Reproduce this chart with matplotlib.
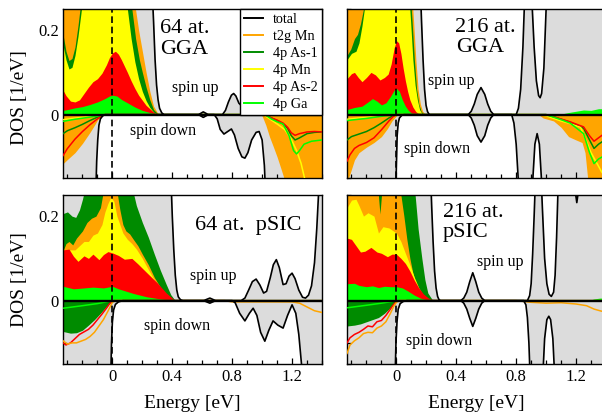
import numpy as np
import matplotlib
matplotlib.use('Agg')
import matplotlib.pyplot as plt
from matplotlib.lines import Line2D
from matplotlib.ticker import FixedLocator, MultipleLocator, FuncFormatter

plt.rcParams['font.family'] = ['Liberation Serif', 'DejaVu Serif']

# ---------------- data: (energy [eV], DOS [1/eV]) ----------------
# ---- 64 at. GGA ----
TL_TOTAL_UP = [(-0.33,0.45),(0.25,0.45),(0.265,0.3),(0.275,0.22),(0.285,0.13),(0.295,0.07),(0.305,0.035),
               (0.315,0.015),(0.33,0.004),(0.345,0.0),(0.575,0.0),(0.59,0.003),(0.607,0.0065),(0.625,0.003),
               (0.64,0.0),(0.735,0.0),(0.755,0.01),(0.775,0.03),(0.795,0.046),(0.81,0.05),(0.825,0.044),
               (0.845,0.027),(0.865,0.02),(0.885,0.05),(0.91,0.2),(0.94,0.45),(1.40,0.45)]
TL_TOTAL_DN = [(-0.33,-0.45),(-0.125,-0.45),(-0.112,-0.2),(-0.105,-0.11),(-0.098,-0.06),(-0.09,-0.025),
               (-0.08,-0.01),(-0.065,-0.003),(-0.05,0.0),(0.575,0.0),(0.59,-0.003),(0.607,-0.0065),
               (0.625,-0.003),(0.64,0.0),(0.68,0.0),(0.7,-0.01),(0.72,-0.035),(0.745,-0.046),(0.77,-0.04),
               (0.795,-0.034),(0.815,-0.048),(0.84,-0.08),(0.865,-0.1),(0.885,-0.103),(0.905,-0.09),
               (0.93,-0.06),(0.96,-0.042),(0.98,-0.04),(1.0,-0.06),(1.015,-0.12),(1.025,-0.2),
               (1.04,-0.45),(1.40,-0.45)]
TL_T2G_UP = [(-0.33,0.45),(0.1,0.45),(0.13,0.32),(0.15,0.26),(0.175,0.2),(0.2,0.15),(0.225,0.1),
             (0.25,0.055),(0.275,0.02),(0.3,0.005),(0.32,0.0),(1.4,0.0)]
TL_AS1_UP = [(-0.33,0.19),(-0.31,0.15),(-0.29,0.128),(-0.27,0.133),(-0.25,0.16),(-0.23,0.21),(-0.21,0.27),
             (-0.19,0.33),(-0.15,0.45),(0.08,0.45),(0.11,0.3),(0.13,0.25),(0.155,0.18),(0.18,0.13),
             (0.2,0.1),(0.225,0.065),(0.25,0.035),(0.275,0.012),(0.3,0.003),(0.32,0.0),(1.4,0.0)]
TL_MN_UP = [(-0.33,0.165),(-0.31,0.13),(-0.29,0.108),(-0.27,0.112),(-0.25,0.14),(-0.23,0.185),(-0.21,0.24),
            (-0.19,0.3),(-0.15,0.45),(0.05,0.45),(0.08,0.3),(0.1,0.25),(0.125,0.18),(0.15,0.125),
            (0.175,0.085),(0.2,0.055),(0.225,0.033),(0.25,0.017),(0.275,0.006),(0.3,0.0),(1.4,0.0)]
TL_AS2_UP = [(-0.33,0.058),(-0.31,0.045),(-0.28,0.032),(-0.25,0.03),(-0.22,0.035),(-0.19,0.05),(-0.16,0.065),
             (-0.13,0.078),(-0.1,0.085),(-0.07,0.098),(-0.04,0.118),(-0.02,0.135),(0.0,0.146),(0.02,0.15),
             (0.04,0.143),(0.06,0.13),(0.08,0.115),(0.1,0.1),(0.125,0.08),(0.15,0.062),(0.175,0.046),
             (0.2,0.034),(0.225,0.022),(0.25,0.014),(0.275,0.006),(0.3,0.001),(0.32,0.0),(1.4,0.0)]
TL_GA_UP = [(-0.33,0.01),(-0.3,0.012),(-0.25,0.016),(-0.2,0.019),(-0.15,0.024),(-0.1,0.03),(-0.05,0.038),
            (-0.02,0.044),(0.0,0.046),(0.03,0.044),(0.06,0.036),(0.1,0.028),(0.15,0.018),(0.2,0.01),
            (0.25,0.005),(0.3,0.0),(1.4,0.0)]
TL_T2G_DN = [(-0.33,-0.116),(-0.3,-0.106),(-0.25,-0.09),(-0.2,-0.068),(-0.15,-0.042),(-0.12,-0.025),
             (-0.1,-0.013),(-0.08,-0.005),(-0.06,-0.001),(-0.04,0.0),(0.99,0.0),(1.0,-0.003),(1.025,-0.025),
             (1.05,-0.053),(1.075,-0.076),(1.1,-0.1),(1.125,-0.127),(1.15,-0.155),(1.18,-0.3),(1.4,-0.3)]
TL_AS1_DN = [(-0.33,-0.045),(-0.3,-0.038),(-0.25,-0.031),(-0.2,-0.023),(-0.15,-0.014),(-0.1,-0.006),
             (-0.07,-0.002),(-0.05,0.0),(1.02,0.0),(1.05,-0.006),(1.1,-0.014),(1.14,-0.022),(1.17,-0.032),
             (1.195,-0.05),(1.22,-0.06),(1.25,-0.055),(1.3,-0.045),(1.35,-0.042),(1.4,-0.041)]
TL_AS2_DN = [(-0.33,-0.097),(-0.3,-0.08),(-0.25,-0.058),(-0.2,-0.04),(-0.15,-0.024),(-0.1,-0.01),
             (-0.07,-0.003),(-0.05,0.0),(1.02,0.0),(1.05,-0.006),(1.1,-0.013),(1.14,-0.02),(1.17,-0.03),
             (1.195,-0.043),(1.22,-0.049),(1.25,-0.045),(1.3,-0.041),(1.35,-0.04),(1.4,-0.041)]
TL_MN_DN = [(-0.33,-0.012),(-0.2,-0.006),(-0.1,-0.002),(-0.05,0.0),(1.01,0.0),(1.05,-0.01),(1.1,-0.022),
            (1.15,-0.035),(1.19,-0.055),(1.23,-0.085),(1.26,-0.115),(1.29,-0.16),(1.32,-0.3),(1.4,-0.3)]
TL_GA_DN = [(-0.33,-0.016),(-0.25,-0.011),(-0.15,-0.006),(-0.08,-0.002),(-0.05,0.0),(1.02,0.0),(1.06,-0.01),
            (1.1,-0.017),(1.14,-0.022),(1.18,-0.05),(1.21,-0.085),(1.23,-0.093),(1.25,-0.085),
            (1.28,-0.07),(1.33,-0.063),(1.4,-0.06)]

# ---- 216 at. GGA ----
TR_TOTAL_UP = [(-0.33,0.45),(0.15,0.45),(0.16,0.3),(0.168,0.22),(0.178,0.13),(0.188,0.06),(0.198,0.022),
               (0.208,0.007),(0.22,0.0),(0.48,0.0),(0.5,0.008),(0.52,0.025),(0.54,0.048),(0.565,0.064),
               (0.59,0.048),(0.61,0.025),(0.63,0.008),(0.65,0.0),(0.8,0.0),(0.815,0.015),(0.83,0.06),
               (0.845,0.16),(0.855,0.26),(0.87,0.38),(0.89,0.38),(0.905,0.27),(0.92,0.16),(0.935,0.08),
               (0.95,0.045),(0.96,0.04),(0.97,0.05),(0.985,0.11),(1.0,0.25),(1.02,0.45),(1.4,0.45)]
TR_TOTAL_DN = [(-0.33,-0.45),(-0.015,-0.45),(-0.005,-0.2),(0.0,-0.12),(0.005,-0.05),(0.012,-0.02),
               (0.02,-0.008),(0.035,-0.002),(0.05,0.0),(0.48,0.0),(0.5,-0.008),(0.52,-0.025),(0.54,-0.05),
               (0.565,-0.065),(0.59,-0.05),(0.61,-0.025),(0.63,-0.008),(0.65,0.0),(0.77,0.0),
               (0.785,-0.02),(0.8,-0.07),(0.815,-0.16),(0.83,-0.45),(0.89,-0.45),(0.91,-0.16),
               (0.925,-0.07),(0.94,-0.045),(0.955,-0.07),(0.97,-0.16),(0.99,-0.45),(1.4,-0.45)]
TR_T2G_UP = [(-0.33,0.45),(0.08,0.45),(0.1,0.3),(0.115,0.22),(0.13,0.13),(0.145,0.06),(0.16,0.025),
             (0.175,0.008),(0.19,0.002),(0.2,0.0),(1.4,0.0)]
TR_AS1_UP = [(-0.33,0.14),(-0.305,0.155),(-0.28,0.18),(-0.26,0.19),(-0.24,0.215),(-0.22,0.25),(-0.2,0.3),
             (-0.17,0.45),(0.07,0.45),(0.09,0.3),(0.105,0.22),(0.12,0.13),(0.135,0.06),(0.15,0.025),
             (0.165,0.008),(0.18,0.002),(0.19,0.0),(1.4,0.0)]
TR_MN_UP = [(-0.33,0.13),(-0.3,0.145),(-0.27,0.15),(-0.25,0.17),(-0.23,0.21),(-0.21,0.26),(-0.19,0.32),
            (-0.16,0.45),(0.06,0.45),(0.08,0.3),(0.095,0.22),(0.11,0.13),(0.125,0.07),(0.14,0.035),
            (0.155,0.012),(0.17,0.003),(0.18,0.0),(1.4,0.0)]
TR_AS2_UP = [(-0.33,0.085),(-0.3,0.097),(-0.28,0.1),(-0.255,0.088),(-0.23,0.078),(-0.2,0.088),(-0.17,0.1),
             (-0.14,0.094),(-0.11,0.082),(-0.08,0.088),(-0.055,0.096),(-0.035,0.12),(-0.015,0.158),
             (0.0,0.175),(0.015,0.17),(0.03,0.145),(0.045,0.11),(0.06,0.08),(0.075,0.055),(0.09,0.035),
             (0.11,0.018),(0.13,0.007),(0.15,0.002),(0.17,0.0),(1.4,0.0)]
TR_GA_UP = [(-0.33,0.012),(-0.28,0.017),(-0.23,0.02),(-0.19,0.03),(-0.16,0.038),(-0.13,0.032),(-0.1,0.023),
            (-0.07,0.028),(-0.04,0.043),(-0.015,0.058),(0.0,0.062),(0.02,0.055),(0.04,0.035),(0.06,0.02),
            (0.08,0.01),(0.1,0.004),(0.12,0.001),(0.14,0.0),(1.08,0.0),(1.15,0.005),(1.2,0.008),
            (1.25,0.011),(1.3,0.01),(1.35,0.014),(1.4,0.014)]
TR_T2G_DN = [(-0.33,-0.16),(-0.31,-0.14),(-0.28,-0.107),(-0.25,-0.09),(-0.2,-0.077),(-0.15,-0.066),
             (-0.1,-0.052),(-0.06,-0.033),(-0.03,-0.015),(0.0,-0.003),(0.02,0.0),(0.95,0.0),(0.98,-0.008),
             (1.05,-0.015),(1.1,-0.03),(1.15,-0.052),(1.2,-0.06),(1.24,-0.066),(1.26,-0.09),(1.28,-0.16),
             (1.3,-0.3),(1.4,-0.3)]
TR_AS1_DN = [(-0.33,-0.06),(-0.3,-0.052),(-0.25,-0.046),(-0.2,-0.04),(-0.15,-0.031),(-0.1,-0.02),
             (-0.05,-0.008),(-0.02,-0.002),(0.0,0.0),(1.0,0.0),(1.05,-0.005),(1.16,-0.018),(1.25,-0.032),
             (1.29,-0.06),(1.32,-0.08),(1.35,-0.07),(1.4,-0.058)]
TR_AS2_DN = [(-0.33,-0.11),(-0.31,-0.095),(-0.28,-0.08),(-0.25,-0.073),(-0.2,-0.066),(-0.15,-0.055),
             (-0.1,-0.036),(-0.05,-0.015),(-0.02,-0.004),(0.0,0.0),(1.0,0.0),(1.05,-0.005),(1.16,-0.017),
             (1.25,-0.029),(1.29,-0.05),(1.32,-0.063),(1.35,-0.055),(1.4,-0.042)]
TR_MN_DN = [(-0.33,-0.011),(-0.2,-0.006),(-0.1,-0.002),(0.0,0.0),(0.95,0.0),(1.0,-0.003),(1.1,-0.015),
            (1.16,-0.021),(1.23,-0.03),(1.26,-0.055),(1.3,-0.09),(1.37,-0.135),(1.4,-0.15)]
TR_GA_DN = [(-0.33,-0.014),(-0.2,-0.009),(-0.1,-0.004),(0.0,0.0),(1.0,0.0),(1.1,-0.012),(1.16,-0.02),
            (1.25,-0.045),(1.29,-0.09),(1.32,-0.116),(1.35,-0.105),(1.4,-0.095)]

# ---- 64 at. pSIC ----
BL_TOTAL_UP = [(-0.33,0.45),(0.38,0.45),(0.39,0.3),(0.4,0.2),(0.41,0.12),(0.42,0.06),(0.43,0.025),
               (0.44,0.009),(0.455,0.002),(0.47,0.0),(0.61,0.0),(0.63,0.003),(0.651,0.006),(0.67,0.003),
               (0.69,0.0),(0.86,0.0),(0.885,0.006),(0.91,0.025),(0.935,0.045),(0.96,0.051),(0.985,0.037),
               (1.01,0.018),(1.03,0.022),(1.055,0.055),(1.075,0.085),(1.095,0.097),(1.115,0.078),
               (1.14,0.038),(1.16,0.04),(1.18,0.058),(1.2,0.065),(1.22,0.052),(1.245,0.025),(1.27,0.008),
               (1.29,0.006),(1.31,0.013),(1.33,0.035),(1.35,0.09),(1.365,0.17),(1.378,0.26),(1.39,0.38),
               (1.4,0.45)]
BL_TOTAL_DN = [(-0.33,-0.45),(-0.02,-0.45),(-0.012,-0.2),(-0.006,-0.1),(0.0,-0.05),(0.008,-0.022),
               (0.02,-0.009),(0.04,-0.003),(0.07,0.0),(0.61,0.0),(0.63,-0.003),(0.651,-0.006),
               (0.67,-0.003),(0.69,0.0),(0.8,0.0),(0.82,-0.005),(0.85,-0.03),(0.885,-0.048),(0.915,-0.03),
               (0.94,-0.018),(0.965,-0.035),(0.99,-0.075),(1.018,-0.096),(1.045,-0.07),(1.073,-0.048),
               (1.105,-0.058),(1.14,-0.065),(1.17,-0.035),(1.2,-0.01),(1.225,-0.03),(1.245,-0.08),
               (1.263,-0.15),(1.28,-0.3),(1.4,-0.45)]
BL_AS1_UP = [(-0.33,0.206),(-0.3,0.21),(-0.27,0.2),(-0.245,0.197),(-0.22,0.215),(-0.2,0.24),(-0.18,0.27),
             (-0.15,0.35),(-0.12,0.45),(0.1,0.45),(0.13,0.27),(0.16,0.225),(0.2,0.185),(0.24,0.15),
             (0.28,0.11),(0.32,0.072),(0.36,0.038),(0.39,0.014),(0.42,0.0),(1.4,0.0)]
BL_T2G_UP = [(-0.33,0.118),(-0.31,0.135),(-0.29,0.14),(-0.265,0.132),(-0.24,0.148),(-0.2,0.165),
             (-0.17,0.185),(-0.14,0.195),(-0.11,0.2),(-0.08,0.22),(-0.06,0.26),(-0.03,0.29),(0.0,0.3),
             (0.025,0.27),(0.05,0.215),(0.07,0.18),(0.09,0.165),(0.115,0.158),(0.14,0.145),(0.17,0.13),
             (0.2,0.11),(0.24,0.085),(0.28,0.055),(0.32,0.032),(0.36,0.014),(0.4,0.002),(0.42,0.0),
             (1.4,0.0)]
BL_MN_UP = [(-0.33,0.118),(-0.28,0.12),(-0.25,0.12),(-0.22,0.13),(-0.19,0.14),(-0.16,0.14),(-0.13,0.155),
            (-0.1,0.16),(-0.07,0.18),(-0.05,0.21),(-0.03,0.23),(-0.01,0.245),(0.01,0.235),(0.03,0.2),
            (0.05,0.18),(0.07,0.16),(0.1,0.145),(0.13,0.135),(0.16,0.122),(0.2,0.1),(0.23,0.08),
            (0.27,0.055),(0.32,0.03),(0.36,0.015),(0.41,0.0),(1.4,0.0)]
BL_AS2_UP = [(-0.33,0.12),(-0.29,0.122),(-0.26,0.105),(-0.23,0.093),(-0.19,0.106),(-0.16,0.1),(-0.13,0.11),
             (-0.09,0.097),(-0.06,0.109),(-0.03,0.116),(0.0,0.113),(0.04,0.107),(0.08,0.098),(0.13,0.1),
             (0.17,0.087),(0.23,0.066),(0.3,0.042),(0.36,0.018),(0.42,0.0),(1.4,0.0)]
BL_GA_UP = [(-0.33,0.034),(-0.26,0.028),(-0.19,0.03),(-0.13,0.032),(-0.06,0.03),(0.0,0.034),(0.04,0.028),
            (0.14,0.017),(0.23,0.009),(0.32,0.004),(0.41,0.0),(1.4,0.0)]
BL_AS1_DN = [(-0.33,-0.073),(-0.28,-0.077),(-0.24,-0.076),(-0.2,-0.07),(-0.16,-0.058),(-0.12,-0.045),
             (-0.08,-0.03),(-0.05,-0.018),(-0.02,-0.006),(0.0,0.0),(1.4,0.0)]
BL_GA_DN = [(-0.33,-0.018),(-0.2,-0.012),(-0.1,-0.007),(-0.03,-0.002),(0.0,0.0),(1.4,0.0)]
BL_AS2_DN = [(-0.33,-0.1),(-0.31,-0.105),(-0.28,-0.1),(-0.25,-0.09),(-0.22,-0.08),(-0.19,-0.074),
             (-0.16,-0.068),(-0.13,-0.058),(-0.1,-0.045),(-0.07,-0.032),(-0.04,-0.018),(-0.02,-0.008),
             (0.0,-0.001),(0.02,0.0),(1.4,0.0)]
BL_T2G_DN = [(-0.33,-0.095),(-0.3,-0.103),(-0.27,-0.1),(-0.24,-0.1),(-0.21,-0.096),(-0.18,-0.092),
             (-0.15,-0.085),(-0.12,-0.075),(-0.09,-0.06),(-0.06,-0.045),(-0.03,-0.025),(0.0,-0.004),
             (0.02,0.0),(0.75,0.0),(0.8,-0.003),(1.2,-0.003),(1.25,-0.006),(1.3,-0.015),(1.35,-0.024),
             (1.4,-0.028)]

# ---- 216 at. pSIC ----
BR_TOTAL_UP = [(-0.33,0.45),(0.22,0.45),(0.228,0.3),(0.236,0.22),(0.245,0.14),(0.255,0.07),(0.265,0.03),
               (0.275,0.01),(0.285,0.002),(0.295,0.0),(0.43,0.0),(0.45,0.006),(0.47,0.02),(0.49,0.045),
               (0.51,0.066),(0.53,0.045),(0.55,0.02),(0.57,0.006),(0.59,0.0),(0.875,0.0),(0.89,0.012),
               (0.9,0.04),(0.91,0.11),(0.92,0.2),(0.93,0.3),(0.945,0.45),(0.96,0.35),(0.975,0.22),
               (0.99,0.1),(1.005,0.04),(1.02,0.015),(1.035,0.01),(1.05,0.02),(1.06,0.06),(1.07,0.15),
               (1.08,0.27),(1.1,0.45),(1.17,0.45),(1.19,0.27),(1.205,0.232),(1.22,0.27),(1.25,0.45),
               (1.4,0.45)]
BR_TOTAL_DN = [(-0.33,-0.45),(-0.02,-0.45),(-0.01,-0.2),(-0.003,-0.1),(0.004,-0.05),(0.012,-0.02),
               (0.025,-0.007),(0.045,-0.002),(0.07,0.0),(0.43,0.0),(0.45,-0.006),(0.47,-0.02),
               (0.49,-0.042),(0.51,-0.061),(0.53,-0.042),(0.55,-0.02),(0.57,-0.006),(0.59,0.0),(0.85,0.0),
               (0.865,-0.01),(0.875,-0.04),(0.885,-0.1),(0.895,-0.2),(0.905,-0.45),(0.96,-0.45),
               (0.975,-0.2),(0.99,-0.09),(1.005,-0.045),(1.018,-0.037),(1.03,-0.045),(1.045,-0.09),
               (1.06,-0.2),(1.075,-0.45),(1.4,-0.45)]
BR_AS1_UP = [(-0.33,0.45),(0.1,0.45),(0.115,0.3),(0.125,0.25),(0.145,0.17),(0.17,0.1),(0.19,0.05),
             (0.21,0.018),(0.24,0.002),(0.26,0.0),(1.4,0.0)]
BR_T2G_UP = [(-0.33,0.45),(-0.14,0.45),(-0.125,0.27),(-0.11,0.205),(-0.095,0.27),(-0.08,0.45),(0.0,0.45),
             (0.015,0.3),(0.03,0.25),(0.05,0.2),(0.07,0.145),(0.09,0.1),(0.11,0.065),(0.13,0.04),
             (0.16,0.018),(0.2,0.006),(0.24,0.0),(1.4,0.0)]
BR_MN_UP = [(-0.33,0.22),(-0.3,0.238),(-0.27,0.24),(-0.25,0.225),(-0.22,0.2),(-0.19,0.208),(-0.15,0.2),
            (-0.12,0.16),(-0.09,0.175),(-0.05,0.172),(0.0,0.16),(0.03,0.14),(0.06,0.112),(0.09,0.085),
            (0.12,0.055),(0.15,0.03),(0.18,0.012),(0.21,0.003),(0.24,0.0),(1.4,0.0)]
BR_AS2_UP = [(-0.33,0.148),(-0.3,0.145),(-0.27,0.13),(-0.24,0.115),(-0.21,0.117),(-0.17,0.126),
             (-0.13,0.115),(-0.1,0.112),(-0.06,0.104),(-0.03,0.11),(0.0,0.11),(0.03,0.1),(0.06,0.088),
             (0.09,0.07),(0.12,0.048),(0.15,0.03),(0.18,0.016),(0.21,0.007),(0.25,0.0),(1.4,0.0)]
BR_GA_UP = [(-0.33,0.04),(-0.28,0.041),(-0.25,0.036),(-0.2,0.033),(-0.16,0.035),(-0.12,0.031),
            (-0.08,0.034),(-0.04,0.033),(0.0,0.033),(0.04,0.03),(0.08,0.022),(0.12,0.013),(0.16,0.006),
            (0.2,0.002),(0.25,0.0),(1.28,0.0),(1.32,0.004),(1.36,0.006),(1.4,0.006)]
BR_AS1_DN = [(-0.33,-0.06),(-0.28,-0.058),(-0.24,-0.055),(-0.2,-0.05),(-0.16,-0.045),(-0.12,-0.04),
             (-0.08,-0.03),(-0.05,-0.02),(-0.02,-0.008),(0.0,0.0),(1.4,0.0)]
BR_GA_DN = [(-0.33,-0.017),(-0.2,-0.011),(-0.1,-0.006),(-0.03,-0.002),(0.0,0.0),(1.4,0.0)]
BR_AS2_DN = [(-0.33,-0.1),(-0.31,-0.088),(-0.28,-0.08),(-0.25,-0.075),(-0.22,-0.068),(-0.19,-0.06),
             (-0.16,-0.062),(-0.13,-0.05),(-0.1,-0.047),(-0.07,-0.035),(-0.04,-0.02),(-0.02,-0.01),
             (0.0,-0.002),(0.02,0.0),(1.4,0.0)]
BR_T2G_DN = [(-0.33,-0.125),(-0.31,-0.105),(-0.28,-0.095),(-0.25,-0.088),(-0.22,-0.078),(-0.19,-0.075),
             (-0.16,-0.076),(-0.13,-0.065),(-0.1,-0.06),(-0.07,-0.05),(-0.04,-0.03),(-0.02,-0.015),
             (0.0,-0.004),(0.02,0.0),(0.8,0.0),(0.9,-0.004),(1.0,-0.006),(1.1,-0.005),(1.2,-0.008),
             (1.27,-0.012),(1.32,-0.02),(1.37,-0.025),(1.4,-0.025)]

LEGEND_LABELS = ['total', 't2g Mn', '4p As-1', '4p Mn', '4p As-2', '4p Ga']
X_TICKS = [0.0, 0.4, 0.8, 1.2]
X_TICK_LABELS = ['0', '0.4', '0.8', '1.2']
Y_TICKS = [0.0, 0.2]
Y_TICK_LABELS = ['0', '0.2']

# ---------------- styling ----------------
GRAY = '#DCDCDC'
COL = {'t2g': '#FFA500', 'as1': '#008B00', 'mn': '#FFFF00', 'as2': '#FF0000', 'ga': '#00FF00'}

W, H = 602, 415
fig = plt.figure(figsize=(W / 100, H / 100), dpi=100)


def ax_at(x0, y0, x1, y1):
    return fig.add_axes([x0 / W, 1 - y1 / H, (x1 - x0) / W, (y1 - y0) / H])


def xy(pairs):
    a = np.array(pairs, dtype=float)
    return a[:, 0], a[:, 1]


def ftext(px, py, s, size, **kw):
    fig.text(px / W, 1 - py / H, s, fontsize=size, ha='left', va='baseline', **kw)


def draw_panel(ax, d, up_order, dn_fill, dn_lines, left, bottom):
    e, v = xy(d['total_up']); ax.fill_between(e, 0, v, color=GRAY, lw=0, zorder=1)
    e, v = xy(d['total_dn']); ax.fill_between(e, 0, v, color=GRAY, lw=0, zorder=1)
    for k in up_order:
        e, v = xy(d[k + '_up']); ax.fill_between(e, 0, v, color=COL[k], lw=0, zorder=2)
    for k in dn_fill:
        e, v = xy(d[k + '_dn']); ax.fill_between(e, 0, v, color=COL[k], lw=0, zorder=2)
    for k in dn_lines:
        e, v = xy(d[k + '_dn']); ax.plot(e, v, color=COL[k], lw=1.1, zorder=3)
    for key in ('total_up', 'total_dn'):
        e, v = xy(d[key]); ax.plot(e, v, color='k', lw=1.2, zorder=4)
    ax.axhline(0, color='k', lw=1.7, zorder=5)
    ax.axvline(0, color='k', lw=1.2, ls=(0, (4, 2.2)), zorder=5)
    ax.set_xlim(-0.33, 1.40)
    ax.set_ylim(-0.15, 0.25)
    ax.xaxis.set_major_locator(FixedLocator(X_TICKS))
    ax.xaxis.set_minor_locator(MultipleLocator(0.1))
    ax.yaxis.set_major_locator(FixedLocator(Y_TICKS))
    ax.yaxis.set_minor_locator(FixedLocator([-0.1, 0.1]) if left else MultipleLocator(0.05))
    ax.xaxis.set_major_formatter(FuncFormatter(lambda v, p: X_TICK_LABELS[X_TICKS.index(round(v, 1))]))
    ax.yaxis.set_major_formatter(FuncFormatter(lambda v, p: Y_TICK_LABELS[Y_TICKS.index(round(v, 1))]))
    ax.tick_params(which='both', direction='in', top=False, right=False, labelsize=12, width=0.9)
    ax.tick_params(axis='x', which='major', length=4.3, pad=3.5)
    ax.tick_params(axis='x', which='minor', length=2.6)
    ax.tick_params(axis='y', which='major', length=5.2, pad=3)
    ax.tick_params(axis='y', which='minor', length=3.0)
    ax.tick_params(labelbottom=bottom, labelleft=left)
    for s in ax.spines.values():
        s.set_linewidth(1.0)


ax_tl = ax_at(63, 9, 322, 178)
ax_tr = ax_at(347, 9, 606, 178)
ax_bl = ax_at(63, 195, 322, 364)
ax_br = ax_at(347, 195, 606, 364)

TL = dict(total_up=TL_TOTAL_UP, total_dn=TL_TOTAL_DN, t2g_up=TL_T2G_UP, as1_up=TL_AS1_UP, mn_up=TL_MN_UP,
          as2_up=TL_AS2_UP, ga_up=TL_GA_UP, t2g_dn=TL_T2G_DN, as1_dn=TL_AS1_DN, as2_dn=TL_AS2_DN,
          mn_dn=TL_MN_DN, ga_dn=TL_GA_DN)
TR = dict(total_up=TR_TOTAL_UP, total_dn=TR_TOTAL_DN, t2g_up=TR_T2G_UP, as1_up=TR_AS1_UP, mn_up=TR_MN_UP,
          as2_up=TR_AS2_UP, ga_up=TR_GA_UP, t2g_dn=TR_T2G_DN, as1_dn=TR_AS1_DN, as2_dn=TR_AS2_DN,
          mn_dn=TR_MN_DN, ga_dn=TR_GA_DN)
BL = dict(total_up=BL_TOTAL_UP, total_dn=BL_TOTAL_DN, t2g_up=BL_T2G_UP, as1_up=BL_AS1_UP, mn_up=BL_MN_UP,
          as2_up=BL_AS2_UP, ga_up=BL_GA_UP, as1_dn=BL_AS1_DN, ga_dn=BL_GA_DN, as2_dn=BL_AS2_DN,
          t2g_dn=BL_T2G_DN)
BR = dict(total_up=BR_TOTAL_UP, total_dn=BR_TOTAL_DN, t2g_up=BR_T2G_UP, as1_up=BR_AS1_UP, mn_up=BR_MN_UP,
          as2_up=BR_AS2_UP, ga_up=BR_GA_UP, as1_dn=BR_AS1_DN, ga_dn=BR_GA_DN, as2_dn=BR_AS2_DN,
          t2g_dn=BR_T2G_DN)

draw_panel(ax_tl, TL, ['t2g', 'as1', 'mn', 'as2', 'ga'], ['t2g'], ['as1', 'mn', 'as2', 'ga'], True, False)
draw_panel(ax_tr, TR, ['t2g', 'as1', 'mn', 'as2', 'ga'], ['t2g'], ['as1', 'mn', 'as2', 'ga'], False, False)
draw_panel(ax_bl, BL, ['as1', 't2g', 'mn', 'as2', 'ga'], ['as1'], ['ga', 'as2', 't2g'], True, True)
draw_panel(ax_br, BR, ['as1', 't2g', 'mn', 'as2', 'ga'], ['as1'], ['ga', 'as2', 't2g'], False, True)

# legend
handles = [Line2D([], [], color=c, lw=1.4) for c in ['k', COL['t2g'], COL['as1'], COL['mn'], COL['as2'], COL['ga']]]
leg = ax_tl.legend(handles, LEGEND_LABELS, loc='upper right', bbox_to_anchor=(1.0, 1.0), borderaxespad=0,
                   fontsize=10.3, frameon=True, fancybox=False, framealpha=1, edgecolor='k',
                   handlelength=1.3, handletextpad=0.7, labelspacing=0.27, borderpad=0.3)
leg.get_frame().set_linewidth(1.0)
leg.set_zorder(10)

# panel texts
ftext(160, 33, '64 at.', 16)
ftext(160, 53.5, 'GGA', 16)
ftext(455, 32.5, '216 at.', 16)
ftext(456, 52, 'GGA', 16)
ftext(195, 229.5, '64 at.  pSIC', 16)
ftext(443, 217, '216 at.', 16)
ftext(443, 237, 'pSIC', 16)

ftext(172, 91.5, 'spin up', 11.5)
ftext(130, 135, 'spin down', 11.5)
ftext(428, 85, 'spin up', 11.5)
ftext(404, 153, 'spin down', 11.5)
ftext(190, 280.5, 'spin up', 11.5)
ftext(144, 330, 'spin down', 11.5)
ftext(477, 266, 'spin up', 11.5)
ftext(406, 345, 'spin down', 11.5)

# axis labels
fig.text(20 / W, 1 - 98 / H, 'DOS [1/eV]', fontsize=14, rotation=90, ha='center', va='center')
fig.text(20 / W, 1 - 280 / H, 'DOS [1/eV]', fontsize=14, rotation=90, ha='center', va='center')
fig.text(192.5 / W, 1 - 403 / H, 'Energy [eV]', fontsize=14, ha='center', va='center')
fig.text(476.5 / W, 1 - 403 / H, 'Energy [eV]', fontsize=14, ha='center', va='center')

fig.savefig('out.png', dpi=100)
